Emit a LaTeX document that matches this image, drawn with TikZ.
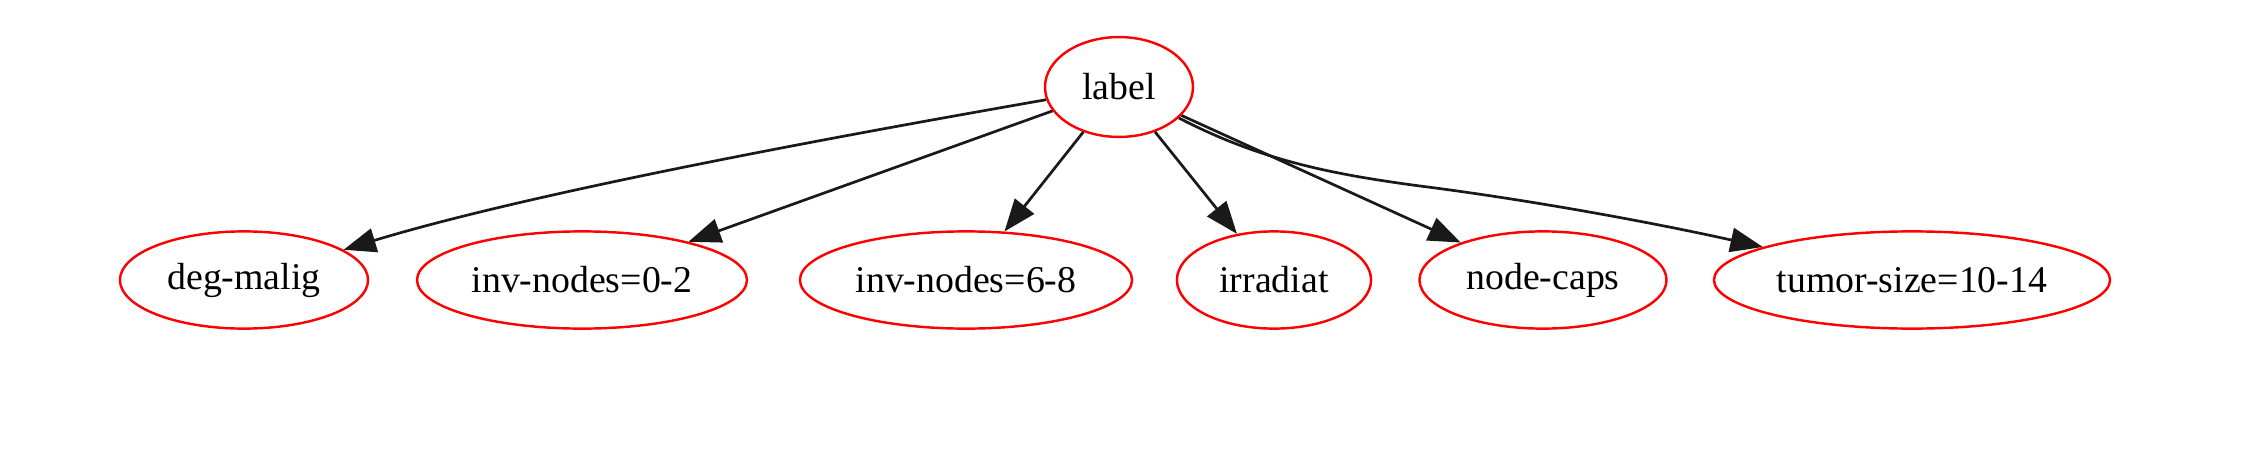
\documentclass[tikz,border=0pt]{standalone}
\usepackage{fontspec}
\setmainfont{Liberation Serif}
\usetikzlibrary{shapes.geometric,arrows.meta}
\tikzset{
  gnode/.style={ellipse, draw=red, line width=0.9pt, inner sep=0pt,
    minimum height=36pt, font=\fontsize{14}{16}\selectfont, text=black},
  gline/.style={draw=black!90, line width=1pt},
  gedge/.style={gline, -{Triangle[length=12pt,width=9pt]}}
}
\begin{document}
\begin{tikzpicture}[x=0.37037pt, y=-0.37037pt]
\useasboundingbox (0,0) rectangle (2248,448);
\node[gnode, minimum width=54.8pt, minimum height=37pt] (label) at (1119,87) {label};
\node[gnode, minimum width=91.9pt] (deg) at (244,280) {deg-malig};
\node[gnode, minimum width=122.2pt] (inv0) at (582,280) {inv-nodes=0-2};
\node[gnode, minimum width=123pt] (inv6) at (966,280) {inv-nodes=6-8};
\node[gnode, minimum width=71.9pt] (irr) at (1274,280) {irradiat};
\node[gnode, minimum width=91.5pt] (caps) at (1543,280) {node-caps};
\node[gnode, minimum width=146.7pt] (tumor) at (1912,280) {tumor-size=10-14};
\coordinate (m1) at (1420,186);
\draw[gedge] (label) .. controls (850,134) and (537,191) .. (deg);
\draw[gedge] (label) -- (inv0);
\draw[gedge] (label) -- (inv6);
\draw[gedge] (label) -- (irr);
\draw[gedge] (label) -- (caps);
\draw[gline] (label) .. controls (1260,160) and (1330,174) .. (m1);
\draw[gedge] (m1) .. controls (1530,200) and (1650,222) .. (tumor);
\end{tikzpicture}
\end{document}
